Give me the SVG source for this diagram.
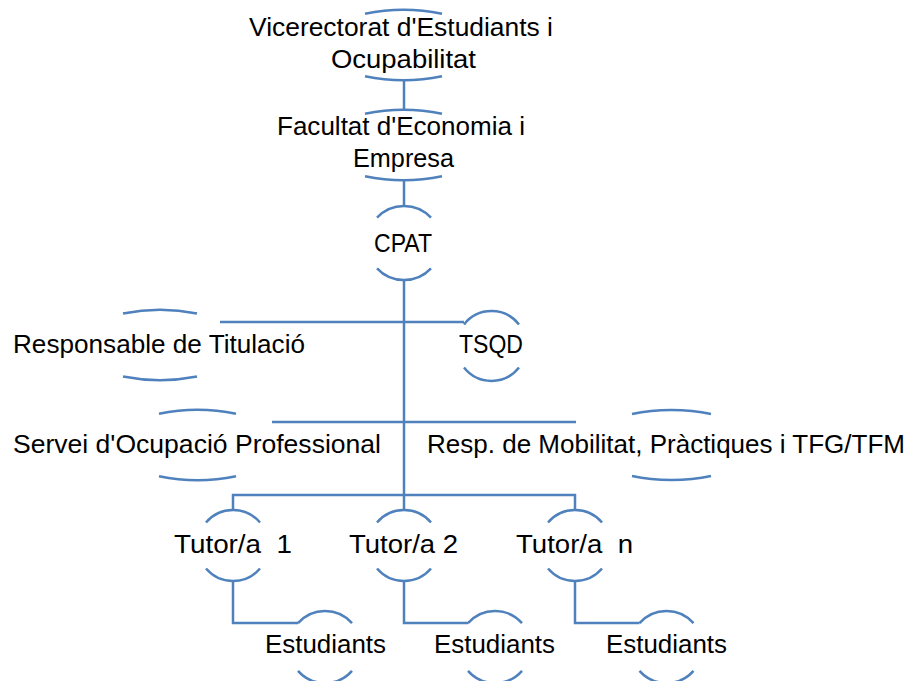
<svg xmlns="http://www.w3.org/2000/svg" width="913" height="681" viewBox="0 0 913 681">
  <style>
    .arc { fill: none; stroke: #4F81BD; stroke-width: 2.5; }
    .conn { fill: none; stroke: #4F81BD; stroke-width: 2.5; }
    text { font-family: "Liberation Sans", Arial, sans-serif; font-size: 25.5px; fill: #000000; }
  </style>
  <rect width="913" height="681" fill="#ffffff"/>
  <g id="connectors">
    <path class="conn" d="M404,80 V110"/>
    <path class="conn" d="M404,180 V206"/>
    <path class="conn" d="M404,280 V495"/>
    <path class="conn" d="M220,322 H464"/>
    <path class="conn" d="M272,422 H576"/>
    <path class="conn" d="M233,510 V495 H575 V510"/>
    <path class="conn" d="M404,495 V510"/>
    <path class="conn" d="M233,581 V623 H298"/>
    <path class="conn" d="M404,581 V623 H468"/>
    <path class="conn" d="M575,581 V623 H639.5"/>
  </g>
  <g id="node-vicerectorat">
    <path class="arc" d="M365,13.8 A85,35 0 0 1 442,13.8"/>
    <path class="arc" d="M365,76.2 A85,35 0 0 0 442,76.2"/>
    <text x="249" y="36" textLength="304" lengthAdjust="spacingAndGlyphs">Vicerectorat d'Estudiants i</text>
    <text x="331" y="68" textLength="145" lengthAdjust="spacingAndGlyphs">Ocupabilitat</text>
  </g>
  <g id="node-facultat">
    <path class="arc" d="M365,113.8 A85,35 0 0 1 442,113.8"/>
    <path class="arc" d="M365,176.2 A85,35 0 0 0 442,176.2"/>
    <text x="277" y="135" textLength="248" lengthAdjust="spacingAndGlyphs">Facultat d'Economia i</text>
    <text x="353" y="167" textLength="101" lengthAdjust="spacingAndGlyphs">Empresa</text>
  </g>
  <g id="node-cpat">
    <path class="arc" d="M377,217.7 A37,37 0 0 1 431,217.7"/>
    <path class="arc" d="M377,268.3 A37,37 0 0 0 431,268.3"/>
    <text x="374" y="252" textLength="58" lengthAdjust="spacingAndGlyphs">CPAT</text>
  </g>
  <g id="node-responsable">
    <path class="arc" d="M123,313.5 A85,35 0 0 1 197,313.5"/>
    <path class="arc" d="M123,376.5 A85,35 0 0 0 197,376.5"/>
    <text x="13" y="353" textLength="292" lengthAdjust="spacingAndGlyphs">Responsable de Titulació</text>
  </g>
  <g id="node-tsqd">
    <path class="arc" d="M464,324.4 A35,35 0 0 1 519,324.4"/>
    <path class="arc" d="M464,367.6 A35,35 0 0 0 519,367.6"/>
    <text x="459" y="353" textLength="64" lengthAdjust="spacingAndGlyphs">TSQD</text>
  </g>
  <g id="node-servei">
    <path class="arc" d="M159,413.8 A85,35 0 0 1 236,413.8"/>
    <path class="arc" d="M159,476.2 A85,35 0 0 0 236,476.2"/>
    <text x="13" y="453" textLength="368" lengthAdjust="spacingAndGlyphs">Servei d'Ocupació Professional</text>
  </g>
  <g id="node-resp-mobilitat">
    <path class="arc" d="M632,414 A85,35 0 0 1 711,414"/>
    <path class="arc" d="M632,476 A85,35 0 0 0 711,476"/>
    <text x="427" y="453" textLength="478" lengthAdjust="spacingAndGlyphs">Resp. de Mobilitat, Pràctiques i TFG/TFM</text>
  </g>
  <g id="node-tutor1">
    <path class="arc" d="M206,522.45 A35.5,35.5 0 0 1 260,522.45"/>
    <path class="arc" d="M206,568.55 A35.5,35.5 0 0 0 260,568.55"/>
    <text x="174" y="553" textLength="118" lengthAdjust="spacingAndGlyphs" xml:space="preserve">Tutor/a  1</text>
  </g>
  <g id="node-tutor2">
    <path class="arc" d="M377,522.45 A35.5,35.5 0 0 1 431,522.45"/>
    <path class="arc" d="M377,568.55 A35.5,35.5 0 0 0 431,568.55"/>
    <text x="349" y="553" textLength="109" lengthAdjust="spacingAndGlyphs">Tutor/a 2</text>
  </g>
  <g id="node-tutorn">
    <path class="arc" d="M548,522.45 A35.5,35.5 0 0 1 602,522.45"/>
    <path class="arc" d="M548,568.55 A35.5,35.5 0 0 0 602,568.55"/>
    <text x="516" y="553" textLength="117" lengthAdjust="spacingAndGlyphs" xml:space="preserve">Tutor/a  n</text>
  </g>
  <g id="node-estudiants1">
    <path class="arc" d="M298,623.2 A36,36 0 0 1 352,623.2"/>
    <path class="arc" d="M298,670.8 A36,36 0 0 0 352,670.8"/>
    <text x="265" y="653" textLength="121" lengthAdjust="spacingAndGlyphs">Estudiants</text>
  </g>
  <g id="node-estudiants2">
    <path class="arc" d="M468,623.2 A36,36 0 0 1 522,623.2"/>
    <path class="arc" d="M468,670.8 A36,36 0 0 0 522,670.8"/>
    <text x="434" y="653" textLength="121" lengthAdjust="spacingAndGlyphs">Estudiants</text>
  </g>
  <g id="node-estudiants3">
    <path class="arc" d="M639.5,623.2 A36,36 0 0 1 693.5,623.2"/>
    <path class="arc" d="M639.5,670.8 A36,36 0 0 0 693.5,670.8"/>
    <text x="606" y="653" textLength="121" lengthAdjust="spacingAndGlyphs">Estudiants</text>
  </g>
</svg>
